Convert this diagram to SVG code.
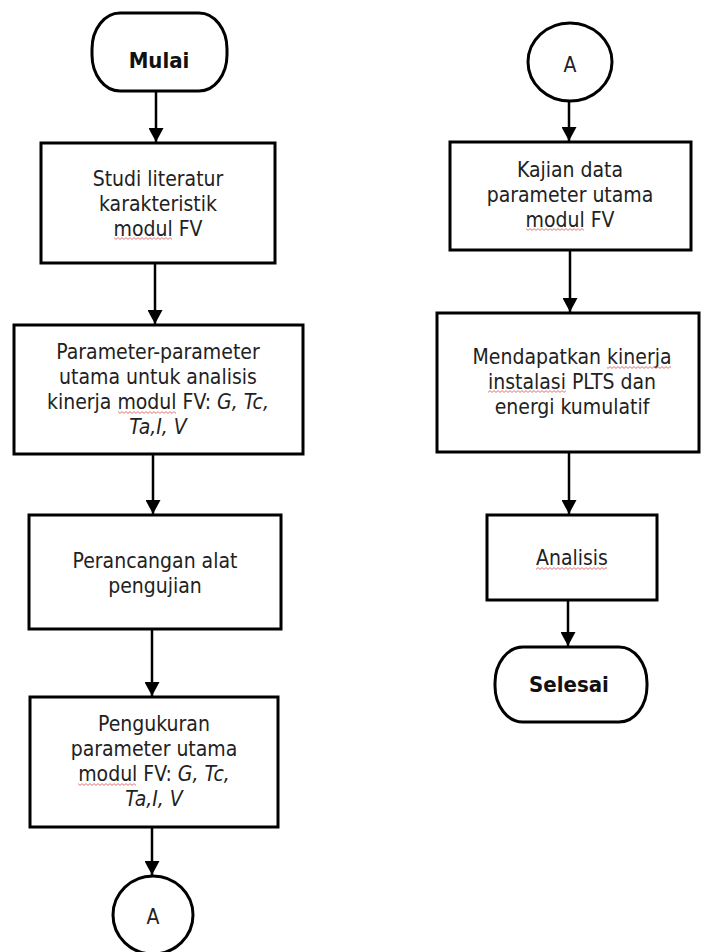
<svg xmlns="http://www.w3.org/2000/svg" width="701" height="952" viewBox="0 0 701 952">
<style>
.shape{fill:#fff;stroke:#000;stroke-width:3}
.t{font-family:"DejaVu Sans Condensed","DejaVu Sans",sans-serif;font-stretch:condensed;font-size:21px;fill:#222;text-anchor:middle}
.b{font-weight:bold;fill:#111;font-size:22px}
.i{font-style:italic}
.sp{fill:url(#wave)}
.edge{stroke:#000;stroke-width:2.5;fill:none}
</style>
<defs>
<marker id="ah" markerUnits="userSpaceOnUse" markerWidth="15" markerHeight="15" refX="14" refY="7.5" orient="auto">
<path d="M0,0 L14,7.5 L0,15 z" fill="#000"/>
</marker>
<pattern id="wave" patternUnits="userSpaceOnUse" width="4" height="3">
<path d="M0,2.4 L2,0.6 L4,2.4" stroke="#e06565" stroke-width="0.9" fill="none"/>
</pattern>
</defs>
<rect width="701" height="952" fill="#fff"/>
<g id="connectors">
<line class="edge" x1="156" y1="92" x2="156" y2="142" marker-end="url(#ah)"/>
<line class="edge" x1="155" y1="263" x2="155" y2="324" marker-end="url(#ah)"/>
<line class="edge" x1="153" y1="454" x2="153" y2="514" marker-end="url(#ah)"/>
<line class="edge" x1="152" y1="629" x2="152" y2="696" marker-end="url(#ah)"/>
<line class="edge" x1="152" y1="827" x2="152" y2="875" marker-end="url(#ah)"/>
<line class="edge" x1="569" y1="102" x2="569" y2="141" marker-end="url(#ah)"/>
<line class="edge" x1="570" y1="250" x2="570" y2="312" marker-end="url(#ah)"/>
<line class="edge" x1="569" y1="452" x2="569" y2="514" marker-end="url(#ah)"/>
<line class="edge" x1="568" y1="600" x2="568" y2="646" marker-end="url(#ah)"/>
</g>
<g id="mulai">
<rect class="shape" x="92" y="13" width="135" height="78" rx="28" ry="36"/>
<text class="t b" x="159" y="68">Mulai</text>
</g>
<g id="studi">
<rect class="shape" x="41" y="143" width="234" height="120"/>
<text class="t" x="158" y="186">Studi literatur</text>
<text class="t" x="158" y="211">karakteristik</text>
<text class="t" x="158" y="236">modul FV</text>
<rect class="sp" x="114" y="237" width="58" height="3"/>
</g>
<g id="parameter">
<rect class="shape" x="14" y="325" width="289" height="129"/>
<text class="t" x="158" y="359">Parameter-parameter</text>
<text class="t" x="158" y="384">utama untuk analisis</text>
<text class="t" x="158" y="409">kinerja modul FV: <tspan class="i">G, Tc,</tspan></text>
<text class="t i" x="158" y="434">Ta,I, V</text>
<rect class="sp" x="118" y="411" width="58" height="3"/>
</g>
<g id="perancangan">
<rect class="shape" x="29" y="515" width="252" height="114"/>
<text class="t" x="155" y="568">Perancangan alat</text>
<text class="t" x="155" y="593">pengujian</text>
</g>
<g id="pengukuran">
<rect class="shape" x="30" y="697" width="248" height="130"/>
<text class="t" x="154" y="731">Pengukuran</text>
<text class="t" x="154" y="756">parameter utama</text>
<text class="t" x="154" y="781">modul FV: <tspan class="i">G, Tc,</tspan></text>
<text class="t i" x="154" y="806">Ta,I, V</text>
<rect class="sp" x="78" y="783" width="58" height="3"/>
</g>
<g id="a-out">
<ellipse class="shape" cx="153" cy="915" rx="40" ry="39"/>
<text class="t" x="153" y="924">A</text>
</g>
<g id="a-in">
<ellipse class="shape" cx="570" cy="62" rx="42" ry="39"/>
<text class="t" x="570" y="72">A</text>
</g>
<g id="kajian">
<rect class="shape" x="450" y="142" width="241" height="108"/>
<text class="t" x="570" y="177">Kajian data</text>
<text class="t" x="570" y="202">parameter utama</text>
<text class="t" x="570" y="227">modul FV</text>
<rect class="sp" x="526" y="228" width="58" height="3"/>
</g>
<g id="mendapatkan">
<rect class="shape" x="437" y="313" width="262" height="139"/>
<text class="t" x="572" y="364">Mendapatkan kinerja</text>
<text class="t" x="572" y="389">instalasi PLTS dan</text>
<text class="t" x="572" y="414">energi kumulatif</text>
<rect class="sp" x="607" y="366" width="64" height="3"/>
<rect class="sp" x="488" y="390" width="78" height="3"/>
</g>
<g id="analisis">
<rect class="shape" x="487" y="515" width="170" height="85"/>
<text class="t" x="572" y="565">Analisis</text>
<rect class="sp" x="536" y="567" width="71" height="3"/>
</g>
<g id="selesai">
<rect class="shape" x="495" y="647" width="152" height="75" rx="28" ry="36"/>
<text class="t b" x="569" y="692">Selesai</text>
</g>
</svg>
